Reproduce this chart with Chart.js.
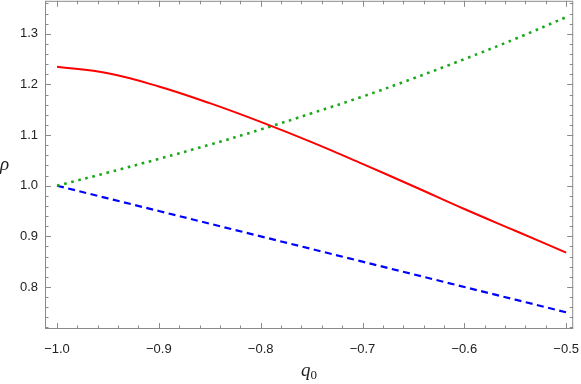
<!DOCTYPE html>
<html>
<head>
<meta charset="utf-8">
<script src="https://cdn.jsdelivr.net/npm/chart.js@4"></script>
<style>
html,body{margin:0;padding:0;background:#fff;overflow:hidden;}
#wrap{width:581px;height:384px;position:relative;overflow:hidden;}
#c{position:absolute;left:0;top:0;}
</style>
</head>
<body>
<div id="wrap"><canvas id="c" width="581" height="384"></canvas></div>
<script>
// ---- data ----
const q0 = [-1.0, -0.95, -0.9, -0.85, -0.8, -0.75, -0.7, -0.65, -0.6, -0.55, -0.5];
const rhoRed   = [1.235, 1.222, 1.196, 1.163, 1.126, 1.086, 1.043, 0.999, 0.954, 0.911, 0.868];
const rhoGreen = [1.000, 1.026, 1.053, 1.081, 1.111, 1.143, 1.176, 1.212, 1.250, 1.290, 1.333];
const rhoBlue  = [1.000, 0.975, 0.950, 0.925, 0.900, 0.875, 0.850, 0.825, 0.800, 0.775, 0.750];
const xTicks = [-1.0, -0.9, -0.8, -0.7, -0.6, -0.5];
const yTicks = [0.8, 0.9, 1.0, 1.1, 1.2, 1.3];
const xLabel = 'q';
const xLabelSub = '0';
const yLabel = 'ρ';

const pts = ys => q0.map((x, i) => ({x: x, y: ys[i]}));

// desired plot frame in page pixels
const AREA = {left: 45, top: 1, right: 573, bottom: 329};
let offX = 0, offY = 0;

const frameColor = '#8a8a8a';

const framePlugin = {
  id: 'frameTicks',
  afterDatasetsDraw(chart) {
    const {ctx, chartArea: a, scales: {x, y}} = chart;
    ctx.save();
    ctx.strokeStyle = frameColor;
    ctx.lineWidth = 1;
    ctx.strokeRect(a.left + 0.5, a.top + 0.5, a.right - a.left - 1, a.bottom - a.top - 1);
    for (let k = -52; k <= -24; k++) {
      const v = k / 50;
      if (v < x.min || v > x.max) continue;
      const major = (k % 5 === 0);
      const len = major ? 6 : 3.5;
      const px = Math.round(x.getPixelForValue(v)) + 0.5;
      ctx.beginPath();
      ctx.moveTo(px, a.bottom); ctx.lineTo(px, a.bottom - len);
      ctx.moveTo(px, a.top); ctx.lineTo(px, a.top + len);
      ctx.stroke();
    }
    for (let k = 35; k <= 70; k++) {
      const v = k / 50;
      if (v < y.min || v > y.max) continue;
      const major = (k % 5 === 0);
      const len = major ? 6 : 3.5;
      const py = Math.round(y.getPixelForValue(v)) + 0.5;
      ctx.beginPath();
      ctx.moveTo(a.left, py); ctx.lineTo(a.left + len, py);
      ctx.moveTo(a.right, py); ctx.lineTo(a.right - len, py);
      ctx.stroke();
    }
    // axis titles
    ctx.fillStyle = '#222';
    ctx.textBaseline = 'alphabetic';
    ctx.textAlign = 'left';
    const big = 'italic 19px "Liberation Serif", "DejaVu Serif", serif';
    const small = '13px "Liberation Serif", "DejaVu Serif", serif';
    ctx.font = big;
    ctx.fillText(yLabel, 0 + offX, 170 + offY);
    const cx = (a.left + a.right) / 2;
    const qw = ctx.measureText(xLabel).width;
    ctx.font = small;
    const sw = ctx.measureText(xLabelSub).width;
    const startX = cx - (qw + sw) / 2;
    ctx.font = big;
    ctx.fillText(xLabel, startX, 376 + offY);
    ctx.font = small;
    ctx.fillText(xLabelSub, startX + qw, 379 + offY);
    ctx.restore();
  }
};

const tickFont = {family: '"Liberation Sans", Arial, sans-serif', size: 13};

function config() {
  return {
    type: 'scatter',
    data: {
      datasets: [
        {label: 'red', data: pts(rhoRed), showLine: true, borderColor: '#ff0000', borderWidth: 2,
         pointRadius: 0, tension: 0.4, fill: false},
        {label: 'green', data: pts(rhoGreen), showLine: true, borderColor: '#1aa81a', borderWidth: 2.6,
         borderDash: [2.6, 4.7], borderCapStyle: 'butt', pointRadius: 0, tension: 0.4, fill: false},
        {label: 'blue', data: pts(rhoBlue), showLine: true, borderColor: '#0000ff', borderWidth: 2.2,
         borderDash: [7, 4.5], borderCapStyle: 'butt', pointRadius: 0, fill: false}
      ]
    },
    options: {
      responsive: false,
      animation: false,
      events: [],
      layout: {padding: 0},
      plugins: {legend: {display: false}, tooltip: {enabled: false}},
      scales: {
        x: {
          type: 'linear', min: -1.0118, max: -0.4931,
          grid: {display: false, drawTicks: false}, border: {display: false},
          afterBuildTicks: s => { s.ticks = xTicks.map(v => ({value: v})); },
          afterFit: s => { s.height = 55; },
          ticks: {padding: 13, color: '#222', font: tickFont, maxRotation: 0, autoSkip: false,
                  callback: v => (v < 0 ? '\u2212' : '') + Math.abs(v).toFixed(1)}
        },
        y: {
          type: 'linear', min: 0.717, max: 1.3652,
          grid: {display: false, drawTicks: false}, border: {display: false},
          afterBuildTicks: s => { s.ticks = yTicks.map(v => ({value: v})); },
          afterFit: s => { s.width = 45; },
          ticks: {padding: 7, color: '#222', font: tickFont, autoSkip: false,
                  callback: v => v.toFixed(1)}
        }
      }
    },
    plugins: [framePlugin]
  };
}

const canvas = document.getElementById('c');
let chart = new Chart(canvas, config());
// adjust canvas size/offset so the plot frame lands where it is in the reference
const ca = chart.chartArea;
const W0 = canvas.width;
const mRight = W0 - ca.right;
offX = ca.left - AREA.left;
offY = ca.top - AREA.top;
const W = Math.round(AREA.right + offX + mRight);
const H = Math.round(AREA.bottom + offY + 55);
chart.destroy();
canvas.width = W; canvas.height = H;
canvas.style.width = W + 'px'; canvas.style.height = H + 'px';
canvas.style.left = (-offX) + 'px';
canvas.style.top = (-offY) + 'px';
chart = new Chart(canvas, config());
</script>
</body>
</html>
